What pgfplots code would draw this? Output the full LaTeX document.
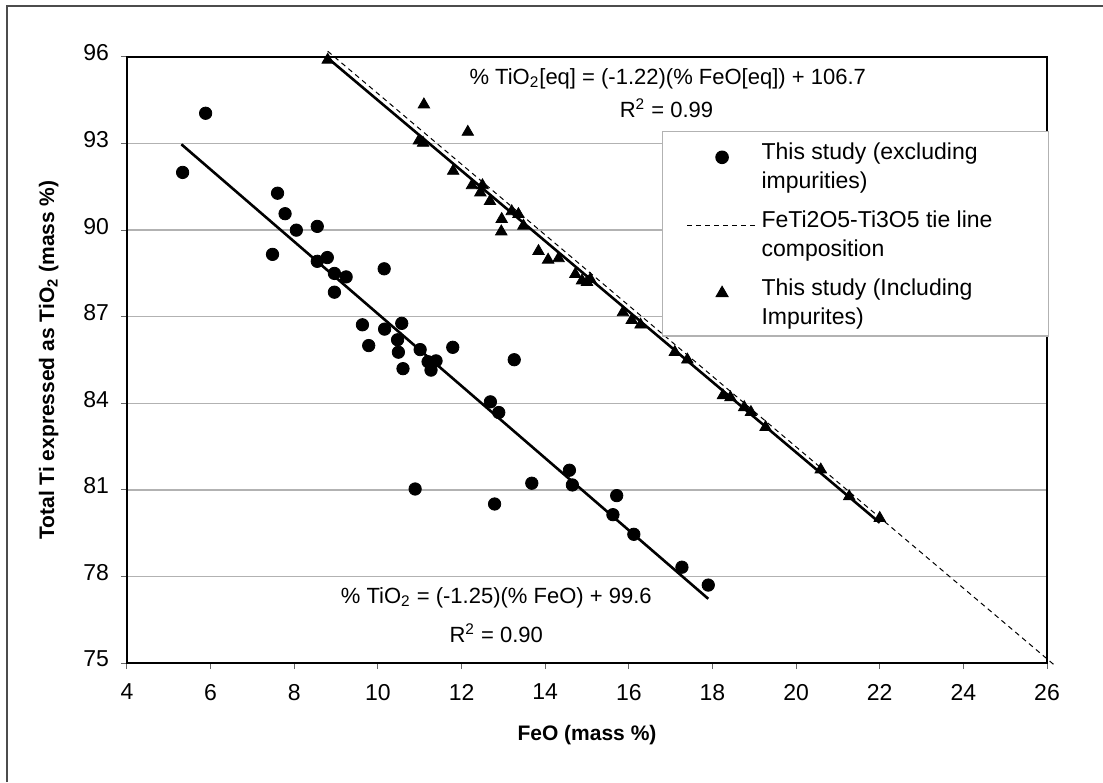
\documentclass[border=0pt]{standalone}
\usepackage{fontspec}
\setmainfont{Liberation Sans}
\usepackage{pgfplots}
\usepackage{pgfplotstable}
\pgfplotsset{compat=1.18}

\pgfplotstableread{
x y
5.33 92.00
5.88 94.05
7.48 89.16
7.60 91.28
7.78 90.57
8.05 90.00
8.55 90.13
8.55 88.92
8.79 89.05
8.96 88.50
9.24 88.38
8.96 87.85
10.15 88.66
9.63 86.72
9.78 86.00
10.16 86.57
10.57 86.77
10.47 86.20
10.49 85.77
10.60 85.20
11.01 85.86
11.20 85.44
11.39 85.47
11.27 85.15
11.79 85.94
13.26 85.51
12.69 84.05
12.89 83.68
10.89 81.03
12.79 80.51
13.68 81.23
14.58 81.68
14.65 81.17
15.71 80.80
15.62 80.14
16.12 79.46
17.27 78.32
17.90 77.70
}\excl

\pgfplotstableread{
x y
8.80 95.90
11.10 94.35
12.15 93.40
10.98 93.10
11.08 93.02
11.80 92.05
12.25 91.55
12.50 91.55
12.45 91.30
12.68 91.00
12.96 90.38
12.95 89.95
13.20 90.65
13.36 90.55
13.48 90.15
13.84 89.27
14.07 88.97
14.32 89.02
14.72 88.47
14.88 88.25
15.00 88.20
15.08 88.30
15.86 87.15
16.07 86.88
16.28 86.72
17.10 85.77
17.40 85.51
18.25 84.27
18.43 84.20
18.76 83.86
18.92 83.69
19.27 83.17
20.59 81.70
21.27 80.77
22.00 80.02
}\incl

\newcommand{\lentry}[2]{\begin{tabular}[b]{@{}l@{\hspace{14pt}}}#1\\#2\end{tabular}}

\begin{document}
\begin{tikzpicture}
\useasboundingbox (-63.5pt,-59.5pt) rectangle (488pt,331.5pt);
\draw[black!70, line width=0.8pt] (-60pt,-59.5pt) -- (-60pt,328.5pt) -- (488pt,328.5pt);
\begin{axis}[
  scale only axis,
  width=460pt, height=303pt,
  xmin=4, xmax=26, ymin=75, ymax=96,
  xtick={4,6,...,26}, ytick={75,78,...,96},
  tick align=outside,
  xtick pos=bottom, ytick pos=left,
  major tick length=3pt,
  tick style={black!60, line width=0.5pt},
  ymajorgrids, grid style={black!30, line width=0.7pt},
  axis line style={black, line width=0.8pt},
  clip=false,
  /pgf/number format/assume math mode=true,
  ticklabel style={font=\fontsize{11.5}{13}\selectfont},
  xticklabel style={yshift=-4pt},
  yticklabel style={xshift=-2.5pt, yshift=2pt},
  xlabel={FeO (mass \%)},
  ylabel={Total Ti expressed as TiO\textsubscript{2} (mass \%)},
  every axis x label/.style={at={(axis description cs:0.5,-0.119)}, anchor=center, font=\bfseries\fontsize{10.5}{12}\selectfont},
  every axis y label/.style={at={(axis description cs:-0.085,0.5)}, rotate=90, anchor=center, font=\bfseries\fontsize{10.5}{12}\selectfont},
  legend image code/.code={\draw[mark repeat=2,mark phase=2,yshift=4.2pt,#1] plot coordinates {(0pt,0pt) (17.5pt,0pt) (35pt,0pt)};},
  legend cell align=left,
  legend style={
    at={(axis description cs:1.0023,0.8786)}, anchor=north east,
    draw=black!30, line width=0.6pt, fill=white,
    font=\fontsize{11.5}{14.5}\selectfont,
    inner xsep=12pt, inner ysep=2.2pt,
    row sep=3.8pt,
    nodes={inner ysep=2pt, inner xsep=2pt},
  },
]
\addplot[only marks, mark=*, mark size=3.1pt, black] table[x=x,y=y] {\excl};
\addlegendentry{\lentry{This study (excluding}{impurities)}}
\addplot[black, line width=0.5pt, dash pattern=on 2.5pt off 2pt] coordinates {(8.8,96.2) (26.2,74.9)};
\addlegendentry{\lentry{FeTi2O5-Ti3O5 tie line}{composition}}
\addplot[only marks, mark=triangle*, mark size=3.3pt, black] table[x=x,y=y] {\incl};
\addlegendentry{\lentry{This study (Including}{Impurites)}}
\addplot[black, line width=1.3pt, forget plot] coordinates {(5.3,92.975) (17.9,77.225)};
\addplot[black, line width=1.3pt, forget plot] coordinates {(8.8,95.964) (22.0,79.86)};

\node[font=\fontsize{11}{13}\selectfont, anchor=center] at (axis cs:16.93,95.24) {\% TiO\textsubscript{2}[eq] = (-1.22)(\% FeO[eq]) + 106.7};
\node[font=\fontsize{11}{13}\selectfont, anchor=center] at (axis cs:16.9,94.23) {R\textsuperscript{2} = 0.99};
\node[font=\fontsize{11}{13}\selectfont, anchor=center] at (axis cs:12.83,77.27) {\% TiO\textsubscript{2} = (-1.25)(\% FeO) + 99.6};
\node[font=\fontsize{11}{13}\selectfont, anchor=center] at (axis cs:12.83,76.04) {R\textsuperscript{2} = 0.90};
\end{axis}
\end{tikzpicture}
\end{document}
